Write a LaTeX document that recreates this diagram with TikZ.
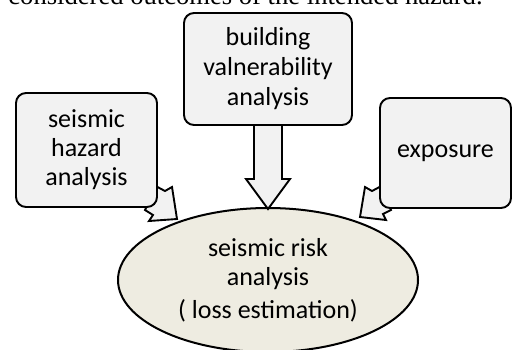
\documentclass[tikz,border=0pt]{standalone}
\usepackage{fontspec}
\setmainfont{Carlito}
\newfontfamily\captionserif{Liberation Serif}
\usetikzlibrary{shapes.geometric}
\definecolor{boxgray}{HTML}{F2F2F2}
\definecolor{riskbeige}{HTML}{EEECE1}

\begin{document}
\begin{tikzpicture}[x=0.5pt,y=-0.5pt,
  infobox/.style={draw=black,line width=0.95pt,fill=boxgray,rounded corners=5pt,
    align=center,inner sep=0pt,font=\fontsize{13}{14.5}\selectfont},
  blockarrow/.style={draw=black,line width=0.95pt,fill=boxgray,line join=miter}]
  \useasboundingbox (0,0) rectangle (512,349);
  \clip (0,0) rectangle (512,349);
  % last line of the text above, cut by the frame
  \node[font=\captionserif\fontsize{13.3}{15}\selectfont,anchor=base west,inner sep=0pt]
    (caption) at (8,4) {considered outcomes of the intended hazard.};
  % result
  \node[ellipse,draw=black,line width=1pt,fill=riskbeige,inner sep=0pt,
    minimum width=150pt,minimum height=72pt,align=center,
    font=\fontsize{13}{14.5}\selectfont] (risk) at (268,280)
    {seismic risk\\ analysis\\[2pt] ( loss estimation)};
  % block arrows, tails hidden under the boxes
  \draw[blockarrow] (254,120) -- (254,179) -- (246,179) -- (268,209) -- (290,179)
    -- (282,179) -- (282,120) -- cycle;
  \draw[blockarrow] (150,183) -- (165,191) -- (172,187) -- (177,219) -- (149,221)
    -- (153,215) -- (145,210) -- (150,200) -- cycle;
  \draw[blockarrow] (387,183) -- (372,191) -- (365,187) -- (360,217) -- (386,220)
    -- (383,214) -- (391,210) -- (387,200) -- cycle;
  % inputs
  \node[infobox,minimum width=70.5pt,minimum height=57pt] (hazard) at (86.5,150)
    {seismic\\ hazard\\ analysis};
  \node[infobox,minimum width=84pt,minimum height=56pt,font=\fontsize{13}{15}\selectfont]
    (vulner) at (268,69) {building\\ valnerability\\ analysis};
  \node[infobox,minimum width=65.5pt,minimum height=55pt] (exposure) at (445.5,153)
    {exposure};
\end{tikzpicture}
\end{document}
